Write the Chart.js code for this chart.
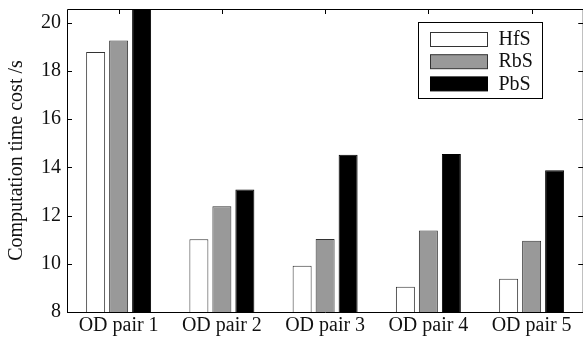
<!DOCTYPE html>
<html>
<head>
<meta charset="utf-8">
<script src="https://cdn.jsdelivr.net/npm/chart.js@4/dist/chart.umd.min.js"></script>
<style>
html,body{margin:0;padding:0;background:#fff;overflow:hidden;}
#wrap{position:relative;width:585px;height:337px;}
</style>
</head>
<body>
<div id="wrap"><canvas id="c"></canvas></div>
<script>
const categories = ['OD pair 1','OD pair 2','OD pair 3','OD pair 4','OD pair 5'];
const hfs = [18.78, 11.02, 9.92, 9.05, 9.38];
const rbs = [19.25, 12.38, 11.03, 11.38, 10.95];
const pbs = [20.9, 13.08, 14.52, 14.55, 13.88];
const seriesNames = ['HfS','RbS','PbS'];
const yTicks = [8, 10, 12, 14, 16, 18, 20];
const yMin = 8, yMax = 20.56;

const FONT = 'Liberation Serif';
const fills = ['#ffffff','#999999','#000000'];
const borders = ['#333333','#333333','#000000'];

const framePlugin = {
  id:'frame',
  beforeDatasetsDraw(chart){
    const {ctx, chartArea:a, scales} = chart;
    ctx.save();
    ctx.strokeStyle = '#000'; ctx.lineWidth = 1;
    ctx.beginPath();
    scales.y.ticks.forEach(t=>{
      const y = Math.round(scales.y.getPixelForValue(t.value))+0.5;
      ctx.moveTo(a.left, y); ctx.lineTo(a.left+5, y);
      ctx.moveTo(a.right, y); ctx.lineTo(a.right-5, y);
    });
    categories.forEach((c,i)=>{
      const x = Math.round(scales.x.getPixelForValue(i))+0.5;
      ctx.moveTo(x, a.top); ctx.lineTo(x, a.top+5);
      ctx.moveTo(x, a.bottom); ctx.lineTo(x, a.bottom-5);
    });
    ctx.stroke();
    ctx.restore();
  },
  afterDraw(chart){
    const {ctx, chartArea:a} = chart;
    ctx.save();
    ctx.strokeStyle = '#000'; ctx.lineWidth = 1;
    const l = Math.round(a.left)+0.5, t = Math.round(a.top)+0.5, b = Math.round(a.bottom)+0.5, r = a.right;
    ctx.beginPath();
    ctx.moveTo(l, b); ctx.lineTo(l, t); ctx.lineTo(r, t); ctx.lineTo(r, b); ctx.lineTo(l, b);
    ctx.stroke();
    // legend
    const bx = 418.5, by = 22.5, bw = 124, bh = 76;
    ctx.fillStyle = '#fff';
    ctx.fillRect(bx, by, bw, bh);
    ctx.strokeRect(bx, by, bw, bh);
    chart.data.datasets.forEach((ds,i)=>{
      const sy = 32.5 + i*22.2;
      ctx.fillStyle = ds.backgroundColor;
      ctx.fillRect(430.5, sy, 57, 14);
      ctx.strokeStyle = ds.borderColor;
      ctx.strokeRect(430.5, sy, 57, 14);
      ctx.fillStyle = '#111';
      ctx.font = '20px "' + FONT + '"';
      ctx.textBaseline = 'middle';
      ctx.textAlign = 'left';
      ctx.fillText(ds.label, 498.5, sy + 7.5);
    });
    ctx.restore();
  }
};

new Chart(document.getElementById('c'), {
  type:'bar',
  data:{
    labels: categories,
    datasets:[hfs, rbs, pbs].map((d,i)=>({
      label: seriesNames[i], data: d,
      backgroundColor: fills[i], borderColor: borders[i], borderWidth: 1,
      categoryPercentage: 0.668, barPercentage: 0.826
    }))
  },
  options:{
    responsive:true, maintainAspectRatio:false, animation:false,
    layout:{padding:{top:9, right:1.75, left:0, bottom:0}},
    plugins:{legend:{display:false}, tooltip:{enabled:false}},
    scales:{
      x:{
        grid:{display:false, drawTicks:false},
        border:{display:false},
        ticks:{color:'#111', font:{family:FONT, size:20}, padding:2, maxRotation:0, autoSkip:false},
        afterFit(s){ s.height = 25; }
      },
      y:{
        min:yMin, max:yMax,
        grid:{display:false, drawTicks:false},
        border:{display:false},
        afterBuildTicks(s){ s.ticks = yTicks.map(v=>({value:v})); },
        ticks:{color:'#111', font:{family:FONT, size:20}, padding:6},
        title:{display:true, text:'Computation time cost /s', color:'#111', font:{family:FONT, size:20}, padding:{top:5,bottom:0}},
        afterFit(s){ s.width = 67; s.paddingTop = 0; s.paddingBottom = 0; }
      }
    }
  },
  plugins:[framePlugin]
});
</script>
</body>
</html>
